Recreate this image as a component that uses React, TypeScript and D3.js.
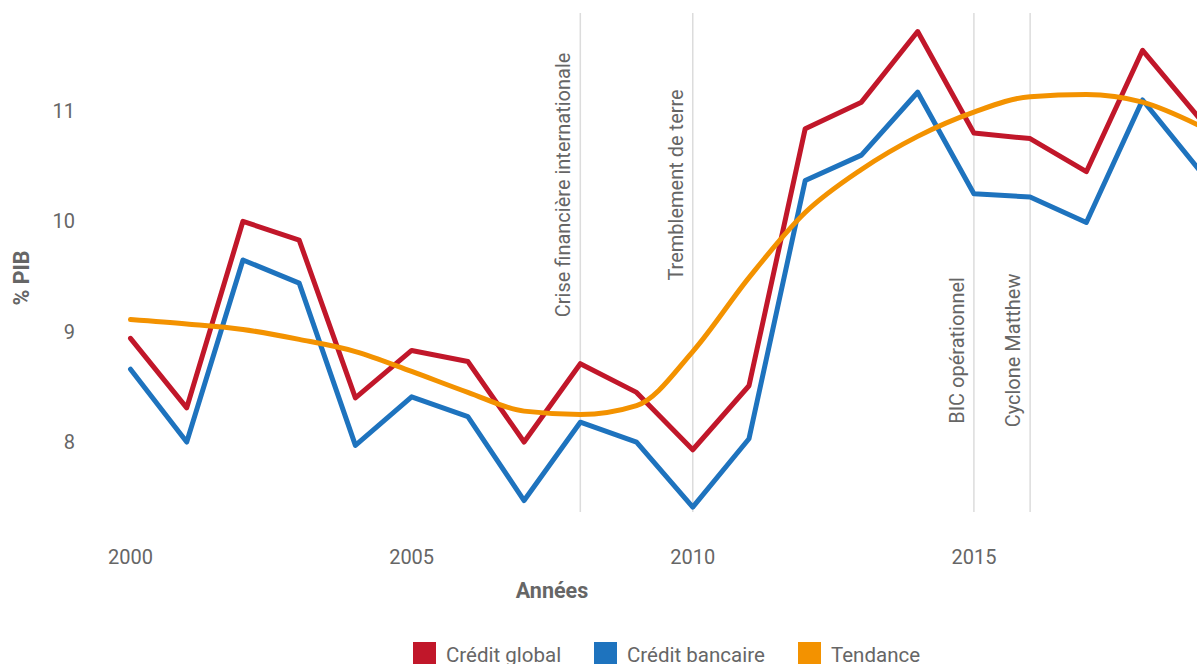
import React from "react";
import * as d3 from "d3";

const years = [2000, 2001, 2002, 2003, 2004, 2005, 2006, 2007, 2008, 2009, 2010, 2011, 2012, 2013, 2014, 2015, 2016, 2017, 2018, 2019];
const creditGlobal = [8.94, 8.31, 10.0, 9.83, 8.4, 8.83, 8.73, 8.0, 8.71, 8.45, 7.93, 8.51, 10.84, 11.08, 11.72, 10.8, 10.75, 10.45, 11.55, 10.94];
const creditBancaire = [8.66, 8.0, 9.65, 9.44, 7.97, 8.41, 8.23, 7.47, 8.18, 8.0, 7.41, 8.03, 10.37, 10.6, 11.17, 10.25, 10.22, 9.99, 11.1, 10.47];
const tendance = [9.11, 9.07, 9.02, 8.93, 8.82, 8.64, 8.45, 8.28, 8.25, 8.33, 8.82, 9.49, 10.08, 10.47, 10.77, 10.99, 11.13, 11.15, 11.08, 10.87];
const xTicks = [2000, 2005, 2010, 2015];
const yTicks = [8, 9, 10, 11];
const events = [
  { year: 2008, label: "Crise financière internationale", at: 10.33 },
  { year: 2010, label: "Tremblement de terre", at: 10.33 },
  { year: 2015, label: "BIC opérationnel", at: 8.83 },
  { year: 2016, label: "Cyclone Matthew", at: 8.83 },
];
const seriesNames = ["Crédit global", "Crédit bancaire", "Tendance"];
const seriesColors = ["#c1172a", "#1e73be", "#f39200"];

const W = 1197;
const H = 664;
const FONT = "Roboto, sans-serif";
const TEXT = "#666666";

export default function App() {
  const x = d3.scaleLinear().domain([2000, 2019]).range([130.5, 1198.8]);
  const y = d3.scaleLinear().domain([7.366, 11.888]).range([512, 13]);
  const line = d3
    .line<number>()
    .x((_, i) => x(years[i]))
    .y((v) => y(v));
  const smooth = d3
    .line<number>()
    .x((_, i) => x(years[i]))
    .y((v) => y(v))
    .curve(d3.curveMonotoneX);
  const allSeries = [creditGlobal, creditBancaire, tendance];
  const legendX = [413, 594, 798];

  return (
    <svg
      width={W}
      height={H}
      style={{ position: "absolute", left: 0, top: 0, background: "#fff" }}
      fontFamily={FONT}
    >
      {events.map((e) => (
        <g key={e.label}>
          <line x1={x(e.year)} x2={x(e.year)} y1={y.range()[1]} y2={y.range()[0]} stroke="#dcdcdc" strokeWidth={1.5} />
          <text
            transform={`translate(${x(e.year) - 10},${y(e.at)}) rotate(-90)`}
            textAnchor="middle"
            fontSize={20}
            fill={TEXT}
          >
            {e.label}
          </text>
        </g>
      ))}
      {yTicks.map((t) => (
        <text key={t} x={75} y={y(t)} dy="0.35em" textAnchor="end" fontSize={20} fill={TEXT}>
          {t}
        </text>
      ))}
      {xTicks.map((t) => (
        <text key={t} x={x(t)} y={564} textAnchor="middle" fontSize={20} fill={TEXT}>
          {t}
        </text>
      ))}
      <text x={552} y={598} textAnchor="middle" fontSize={21.5} fontWeight="bold" fill={TEXT}>
        Années
      </text>
      <text transform={`translate(29,${278}) rotate(-90)`} textAnchor="middle" fontSize={21.5} fontWeight="bold" fill={TEXT}>
        % PIB
      </text>
      {allSeries.map((s, i) => (
        <path
          key={i}
          d={(i === 2 ? smooth(s) : line(s)) || ""}
          fill="none"
          stroke={seriesColors[i]}
          strokeWidth={5}
          strokeLinejoin="round"
          strokeLinecap="round"
        />
      ))}
      {seriesNames.map((n, i) => (
        <g key={n}>
          <rect x={legendX[i]} y={642} width={23} height={22} fill={seriesColors[i]} />
          <text x={legendX[i] + 33} y={662} fontSize={20.5} fill={TEXT}>
            {n}
          </text>
        </g>
      ))}
    </svg>
  );
}
